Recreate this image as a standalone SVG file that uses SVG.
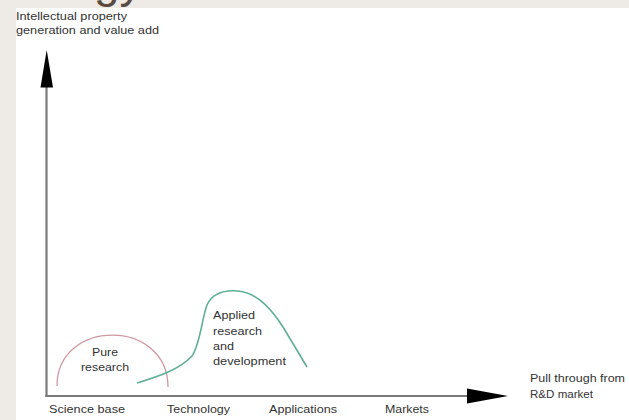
<svg xmlns="http://www.w3.org/2000/svg" width="629" height="420" viewBox="0 0 629 420">
  <style>
    .lbl { font-family: "Liberation Sans", Arial, sans-serif; font-size: 11px; fill: #333333; }
    .axis { stroke: #7a7a7a; stroke-width: 2.2; fill: none; }
    .head { fill: #000000; }
  </style>
  <rect x="0" y="0" width="629" height="420" fill="#eeeae6"/>
  <text x="94" y="-3" font-family="Liberation Sans, Arial, sans-serif" font-size="46" fill="#5a4c40">gy</text>
  <rect x="16" y="8" width="613" height="412" fill="#ffffff"/>

  <g id="connectors">
    <line class="axis" x1="46.5" y1="80" x2="46.5" y2="397"/>
    <line class="axis" x1="45.5" y1="396" x2="480" y2="396"/>
    <polygon class="head" points="46.7,50 40.5,87.5 53,87.5"/>
    <polygon class="head" points="508,396 467,388.5 467,403.5"/>
  </g>

  <g id="y-axis-label">
    <text class="lbl" x="16" y="20" textLength="111" lengthAdjust="spacingAndGlyphs">Intellectual property</text>
    <text class="lbl" x="16" y="34" textLength="143" lengthAdjust="spacingAndGlyphs">generation and value add</text>
  </g>

  <g id="x-axis-label">
    <text class="lbl" x="530" y="382" textLength="95" lengthAdjust="spacingAndGlyphs">Pull through from</text>
    <text class="lbl" x="530" y="398" textLength="63" lengthAdjust="spacingAndGlyphs">R&amp;D market</text>
  </g>

  <g id="science-base"><text class="lbl" x="49" y="413" textLength="76" lengthAdjust="spacingAndGlyphs">Science base</text></g>
  <g id="technology"><text class="lbl" x="167" y="413" textLength="63" lengthAdjust="spacingAndGlyphs">Technology</text></g>
  <g id="applications"><text class="lbl" x="269" y="413" textLength="68" lengthAdjust="spacingAndGlyphs">Applications</text></g>
  <g id="markets"><text class="lbl" x="385" y="413" textLength="44" lengthAdjust="spacingAndGlyphs">Markets</text></g>

  <g id="pure-research">
    <path d="M57,386 C57,318 168,318 168,387" fill="none" stroke="#cf98a0" stroke-width="1.3"/>
    <text class="lbl" x="92" y="356" textLength="26" lengthAdjust="spacingAndGlyphs">Pure</text>
    <text class="lbl" x="81" y="371" textLength="48" lengthAdjust="spacingAndGlyphs">research</text>
  </g>

  <g id="applied-research">
    <path d="M137,383 C160,376 180,369 192,356 C200,345 202,318 207,305 C213,292 225,290 238,291 C258,293 272,310 283,327 L307,367" fill="none" stroke="#5fae96" stroke-width="1.6"/>
    <text class="lbl" x="213" y="319" textLength="42" lengthAdjust="spacingAndGlyphs">Applied</text>
    <text class="lbl" x="213" y="335" textLength="49" lengthAdjust="spacingAndGlyphs">research</text>
    <text class="lbl" x="213" y="350" textLength="21" lengthAdjust="spacingAndGlyphs">and</text>
    <text class="lbl" x="213" y="365" textLength="73" lengthAdjust="spacingAndGlyphs">development</text>
  </g>
</svg>
